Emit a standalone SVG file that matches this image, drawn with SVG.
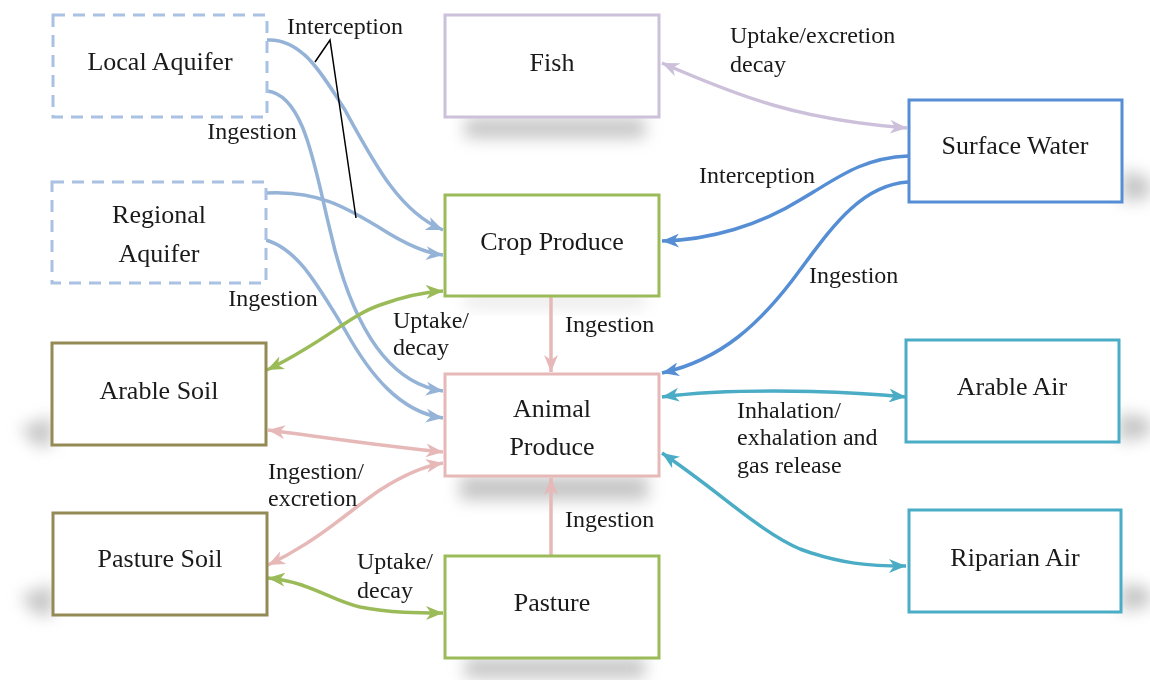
<svg xmlns="http://www.w3.org/2000/svg" width="1150" height="680" viewBox="0 0 1150 680">
<style>
.box{fill:#fff;stroke-width:3}
.nt{font-family:"Liberation Serif","Times New Roman",serif;font-size:26px;fill:#1a1a1a;text-anchor:middle}
.et{font-family:"Liberation Serif","Times New Roman",serif;font-size:24px;fill:#1a1a1a}
.c{fill:none;stroke-width:3.5}
.sh{fill:#8c8c8c;filter:url(#blur)}
</style>
<defs>
<filter id="blur" x="-50%" y="-100%" width="200%" height="300%"><feGaussianBlur stdDeviation="8"/></filter>
<marker id="mLB" markerUnits="userSpaceOnUse" markerWidth="18" markerHeight="14" refX="17" refY="7" orient="auto-start-reverse"><path d="M0,0 L17,7 L0,14 L5,7 z" fill="#95b3d7"/></marker>
<marker id="mLV" markerUnits="userSpaceOnUse" markerWidth="18" markerHeight="14" refX="17" refY="7" orient="auto-start-reverse"><path d="M0,0 L17,7 L0,14 L5,7 z" fill="#ccc0da"/></marker>
<marker id="mDB" markerUnits="userSpaceOnUse" markerWidth="18" markerHeight="14" refX="17" refY="7" orient="auto-start-reverse"><path d="M0,0 L17,7 L0,14 L5,7 z" fill="#558ed5"/></marker>
<marker id="mGR" markerUnits="userSpaceOnUse" markerWidth="18" markerHeight="14" refX="17" refY="7" orient="auto-start-reverse"><path d="M0,0 L17,7 L0,14 L5,7 z" fill="#9bbb59"/></marker>
<marker id="mPK" markerUnits="userSpaceOnUse" markerWidth="18" markerHeight="14" refX="17" refY="7" orient="auto-start-reverse"><path d="M0,0 L17,7 L0,14 L5,7 z" fill="#e6b9b8"/></marker>
<marker id="mTL" markerUnits="userSpaceOnUse" markerWidth="18" markerHeight="14" refX="17" refY="7" orient="auto-start-reverse"><path d="M0,0 L17,7 L0,14 L5,7 z" fill="#4bacc6"/></marker>
</defs>
<rect width="1150" height="680" fill="#fff"/>

<g id="shadows" opacity="0.5">
<rect class="sh" x="465" y="118" width="180" height="20"/>
<rect class="sh" x="465" y="296" width="180" height="10" opacity="0.5"/>
<rect class="sh" x="460" y="476" width="188" height="24"/>
<rect class="sh" x="465" y="658" width="180" height="20"/>
<polygon class="sh" points="20,428 52,416 52,446 36,446"/>
<polygon class="sh" points="20,596 53,584 53,615 36,615"/>
<polygon class="sh" points="1122,170 1150,178 1150,198 1122,202"/>
<polygon class="sh" points="1119,413 1150,418 1150,436 1119,442"/>
<polygon class="sh" points="1121,583 1150,588 1150,606 1121,612"/>
</g>

<g id="connectors">
<path class="c" stroke="#95b3d7" marker-end="url(#mLB)" d="M267,40 C300,38 320,70 345,110 C375,165 400,212 443,230"/>
<path class="c" stroke="#95b3d7" marker-end="url(#mLB)" d="M267,91 C305,95 315,170 330,230 C348,310 380,382 443,391"/>
<path class="c" stroke="#95b3d7" marker-end="url(#mLB)" d="M266,193 C320,190 350,210 380,228 C405,244 425,253 443,255"/>
<path class="c" stroke="#95b3d7" marker-end="url(#mLB)" d="M266,240 C300,250 320,290 345,330 C370,375 400,412 443,418"/>
<path fill="none" stroke="#000" stroke-width="1.5" d="M315,62 L330,40 L356,218"/>
<path class="c" stroke="#ccc0da" marker-start="url(#mLV)" marker-end="url(#mLV)" d="M662,63 C740,97 800,120 907,128"/>
<path class="c" stroke="#558ed5" marker-end="url(#mDB)" d="M908,156 C860,158 835,180 800,200 C760,225 710,240 662,241"/>
<path class="c" stroke="#558ed5" marker-end="url(#mDB)" d="M908,182 C860,185 830,230 800,270 C760,325 720,360 662,373"/>
<path class="c" stroke="#9bbb59" marker-start="url(#mGR)" marker-end="url(#mGR)" d="M267,370 C320,345 350,315 380,305 C405,296 425,292 443,291"/>
<path class="c" stroke="#9bbb59" marker-start="url(#mGR)" marker-end="url(#mGR)" d="M268,578 C310,582 330,600 360,607 C390,613 420,613 443,613"/>
<path class="c" stroke="#e6b9b8" marker-end="url(#mPK)" d="M551,297 L551,372"/>
<path class="c" stroke="#e6b9b8" marker-end="url(#mPK)" d="M551,556 L551,478"/>
<path class="c" stroke="#e6b9b8" marker-start="url(#mPK)" marker-end="url(#mPK)" d="M268,430 C330,438 390,447 443,452"/>
<path class="c" stroke="#e6b9b8" marker-start="url(#mPK)" marker-end="url(#mPK)" d="M268,565 C320,540 350,510 380,490 C405,474 425,466 443,463"/>
<path class="c" stroke="#4bacc6" marker-start="url(#mTL)" marker-end="url(#mTL)" d="M662,397 C720,389 820,389 906,397"/>
<path class="c" stroke="#4bacc6" marker-start="url(#mTL)" marker-end="url(#mTL)" d="M662,453 C720,492 760,532 800,549 C840,564 870,566 906,566"/>
<text class="et" x="345" y="34" text-anchor="middle">Interception</text>
<text class="et" x="252" y="139" text-anchor="middle">Ingestion</text>
<text class="et" x="273" y="306" text-anchor="middle">Ingestion</text>
<text class="et" x="393" y="328">Uptake/</text>
<text class="et" x="393" y="355">decay</text>
<text class="et" x="268" y="479">Ingestion/</text>
<text class="et" x="268" y="506">excretion</text>
<text class="et" x="357" y="569">Uptake/</text>
<text class="et" x="357" y="598">decay</text>
<text class="et" x="565" y="332">Ingestion</text>
<text class="et" x="565" y="527">Ingestion</text>
<text class="et" x="730" y="43">Uptake/excretion</text>
<text class="et" x="730" y="72">decay</text>
<text class="et" x="699" y="183">Interception</text>
<text class="et" x="809" y="283">Ingestion</text>
<text class="et" x="737" y="418">Inhalation/</text>
<text class="et" x="737" y="445">exhalation and</text>
<text class="et" x="737" y="473">gas release</text>
</g>

<g id="local-aquifer"><rect class="box" x="53" y="15" width="214" height="102" stroke="#a9c1e2" stroke-dasharray="12,8"/><text class="nt" x="160" y="70">Local Aquifer</text></g>
<g id="regional-aquifer"><rect class="box" x="52" y="182" width="214" height="101" stroke="#a9c1e2" stroke-dasharray="12,8"/><text class="nt" x="159" y="223">Regional</text><text class="nt" x="159" y="262">Aquifer</text></g>
<g id="fish"><rect class="box" x="445" y="15" width="214" height="102" stroke="#ccc0da"/><text class="nt" x="552" y="71">Fish</text></g>
<g id="surface-water"><rect class="box" x="909" y="100" width="213" height="102" stroke="#558ed5"/><text class="nt" x="1015" y="154">Surface Water</text></g>
<g id="crop-produce"><rect class="box" x="445" y="195" width="214" height="101" stroke="#9bbb59"/><text class="nt" x="552" y="250">Crop Produce</text></g>
<g id="arable-soil"><rect class="box" x="52" y="343" width="214" height="102" stroke="#948a54"/><text class="nt" x="159" y="399">Arable Soil</text></g>
<g id="animal-produce"><rect class="box" x="445" y="374" width="214" height="102" stroke="#e6b9b8"/><text class="nt" x="552" y="417">Animal</text><text class="nt" x="552" y="455">Produce</text></g>
<g id="arable-air"><rect class="box" x="906" y="340" width="213" height="102" stroke="#4bacc6"/><text class="nt" x="1012" y="395">Arable Air</text></g>
<g id="pasture-soil"><rect class="box" x="53" y="513" width="214" height="102" stroke="#948a54"/><text class="nt" x="160" y="567">Pasture Soil</text></g>
<g id="riparian-air"><rect class="box" x="909" y="510" width="212" height="102" stroke="#4bacc6"/><text class="nt" x="1015" y="566">Riparian Air</text></g>
<g id="pasture"><rect class="box" x="445" y="556" width="214" height="102" stroke="#9bbb59"/><text class="nt" x="552" y="611">Pasture</text></g>
</svg>
